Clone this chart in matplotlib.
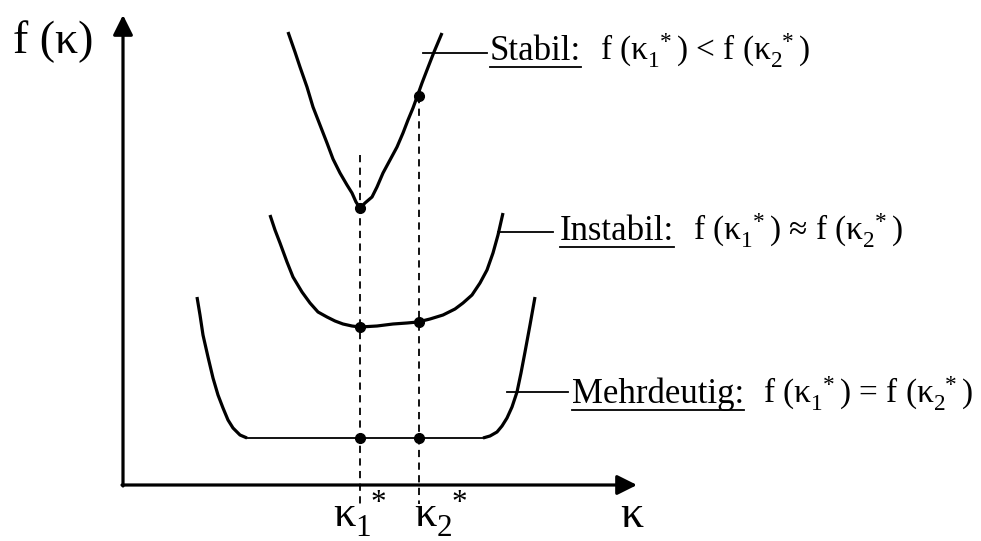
import numpy as np
import matplotlib
matplotlib.use("Agg")
import matplotlib.pyplot as plt

plt.rcParams["font.family"] = ["Liberation Serif", "DejaVu Serif"]
plt.rcParams["mathtext.fontset"] = "custom"
plt.rcParams["mathtext.rm"] = "Liberation Serif"
plt.rcParams["mathtext.default"] = "regular"

# kappa positions of the two minima
k1 = 237
k2 = 296

# stable: clear single minimum
stabil_x = [165, 172, 177, 184, 190, 197, 204, 210, 217, 224, 229, 233, 237,
            242, 249, 254, 260, 267, 274, 280, 285, 290, 294, 299, 304, 311, 319]
stabil_y = [453, 433, 418, 398, 378, 360, 342, 326, 312, 300, 292, 283, 277,
            282, 288, 298, 312, 325, 338, 352, 365, 377, 388, 402, 415, 433, 452]

# unstable: flat bottom, nearly equal values
instabil_x = [147, 152, 157, 164, 170, 179, 187, 195, 204, 212, 220, 229, 237,
              254, 270, 284, 295, 307, 320, 332, 340, 349, 357, 364, 370, 375, 380]
instabil_y = [270, 255, 242, 223, 208, 193, 182, 173, 168, 164, 161, 159, 158,
              159, 161, 162, 163, 166, 170, 176, 182, 190, 202, 215, 232, 250, 272]

# ambiguous: flat plateau between two walls
mehr_left_x = [74, 77, 80, 85, 90, 95, 100, 105, 110, 117, 124]
mehr_left_y = [188, 170, 150, 128, 107, 90, 77, 65, 57, 50, 47]
mehr_right_x = [360, 367, 374, 379, 384, 389, 394, 398, 402, 407, 412]
mehr_right_y = [47, 49, 53, 59, 67, 78, 93, 112, 133, 160, 188]
mehr_flat = 47

dots_stabil = [277, 389]
dots_instabil = [158, 163]

k1_txt = r"$κ_1^{\hspace{0.3}*}$"
k2_txt = r"$κ_2^{\hspace{0.3}*}$"
labels = ["Stabil:", "Instabil:", "Mehrdeutig:"]
formulas = [
    "f (" + k1_txt + ") < f (" + k2_txt + ")",
    "f (" + k1_txt + ") ≈ f (" + k2_txt + ")",
    "f (" + k1_txt + ") = f (" + k2_txt + ")",
]

fig = plt.figure(figsize=(9.81, 5.41), dpi=100)
ax = fig.add_axes([0, 0, 1, 1])
ax.set_xlim(-123, 858)
ax.set_ylim(-56, 485)
ax.axis("off")

lw = 2.3
# axes with arrows
ax.annotate("", xy=(0, 470), xytext=(0, -1),
            arrowprops=dict(arrowstyle="-|>", lw=lw, color="k", mutation_scale=30,
                            shrinkA=0, shrinkB=0))
ax.annotate("", xy=(514, 0), xytext=(-1, 0),
            arrowprops=dict(arrowstyle="-|>", lw=lw, color="k", mutation_scale=30,
                            shrinkA=0, shrinkB=0))

# dashed guides
ax.plot([k1, k1], [330, -19], color="k", lw=1.3, ls=(0, (4, 3)))
ax.plot([k2, k2], [dots_stabil[1], -19], color="k", lw=1.3, ls=(0, (4, 3)))

# curves
style = dict(color="k", lw=lw, solid_capstyle="butt", solid_joinstyle="round")
ax.plot(stabil_x, stabil_y, **style)
ax.plot(instabil_x, instabil_y, **style)
ax.plot(mehr_left_x, mehr_left_y, **style)
ax.plot(mehr_right_x, mehr_right_y, **style)
ax.plot([mehr_left_x[-1], mehr_right_x[0]], [mehr_flat, mehr_flat], color="k", lw=1.3)

# minima points
ax.plot([k1, k2], dots_stabil, "o", color="k", ms=7)
ax.plot([k1, k2], dots_instabil, "o", color="k", ms=7)
ax.plot([k1, k2], [mehr_flat, mehr_flat], "o", color="k", ms=7)

# axis labels
ax.text(-110, 432, "f (κ)", fontsize=33, ha="left", va="baseline")
ax.text(497, -42, "κ", fontsize=33, ha="left", va="baseline")
ax.text(210, -42, k1_txt, fontsize=32, ha="left", va="baseline")
ax.text(291, -42, k2_txt, fontsize=32, ha="left", va="baseline")

# annotations: leader line, underlined word, formula
lead_x = [(300, 364), (375, 430), (384, 445)]
lead_y = [432, 253, 93]
word_x = [367, 437, 449]
base_y = [425, 245, 82]
form_x = [477, 570, 640]

words = []
for i in range(3):
    ax.plot(lead_x[i], [lead_y[i], lead_y[i]], color="k", lw=1.3)
    t = ax.text(word_x[i], base_y[i], labels[i], fontsize=25, ha="left", va="baseline")
    words.append(t)
    ax.text(form_x[i], base_y[i], formulas[i], fontsize=24, ha="left", va="baseline")

fig.canvas.draw()
r = fig.canvas.get_renderer()
inv = ax.transData.inverted()
for i, t in enumerate(words):
    bb = t.get_window_extent(r)
    (x0, _), (x1, _) = inv.transform([(bb.x0, bb.y0), (bb.x1, bb.y0)])
    ax.plot([x0, x1], [base_y[i] - 7, base_y[i] - 7], color="k", lw=1.3)

fig.savefig("out.png", dpi=100, facecolor="white")
